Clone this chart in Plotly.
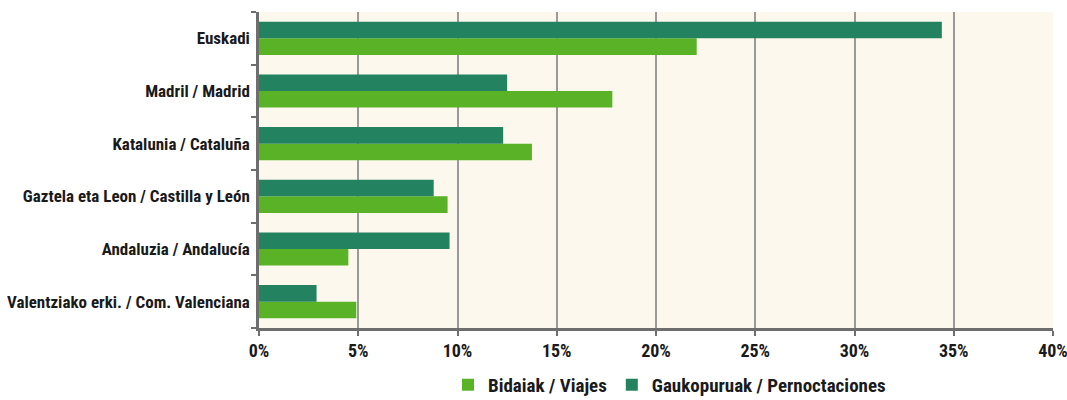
import plotly.graph_objects as go

categories = [
    "Valentziako erki. / Com. Valenciana",
    "Andaluzia / Andalucía",
    "Gaztela eta Leon / Castilla y León",
    "Katalunia / Cataluña",
    "Madril / Madrid",
    "Euskadi",
]
bidaiak = [4.9, 4.5, 9.5, 13.75, 17.8, 22.05]
gaukopuruak = [2.9, 9.6, 8.8, 12.3, 12.5, 34.4]
tick_vals = [0, 5, 10, 15, 20, 25, 30, 35, 40]
tick_text = ["0%", "5%", "10%", "15%", "20%", "25%", "30%", "35%", "40%"]

FONT = "Roboto Condensed, Arial Narrow, sans-serif"

fig = go.Figure()
fig.add_trace(go.Bar(
    y=categories, x=bidaiak, orientation="h", name="Bidaiak / Viajes",
    marker=dict(color="#5ab226", line=dict(width=0)),
))
fig.add_trace(go.Bar(
    y=categories, x=gaukopuruak, orientation="h", name="Gaukopuruak / Pernoctaciones",
    marker=dict(color="#238260", line=dict(width=0)),
))

fig.update_layout(
    width=1067, height=400,
    margin=dict(l=259, r=14, t=12, b=72, autoexpand=False),
    paper_bgcolor="white",
    plot_bgcolor="#fcf8ee",
    barmode="group",
    bargap=0.37,
    bargroupgap=0,
    font=dict(family=FONT, color="#1a1a1a", size=15),
    showlegend=True,
    legend=dict(
        orientation="h", x=0.517, xanchor="center", y=-0.18, yanchor="middle",
        font=dict(size=19, family=FONT, weight="bold"), itemsizing="constant",
        traceorder="normal", itemwidth=30,
    ),
    xaxis=dict(
        range=[0, 40], tickvals=tick_vals, ticktext=tick_text,
        showgrid=True, gridcolor="#9a9a9a", gridwidth=1.5,
        showline=True, linecolor="#6e6e6e", linewidth=2.5,
        ticks="outside", ticklen=5, tickwidth=2, tickcolor="#6e6e6e",
        tickfont=dict(size=18, family=FONT, color="#1a1a1a", weight="bold"),
        ticklabeloverflow="allow",
        zeroline=False, fixedrange=True, automargin=False,
    ),
    yaxis=dict(
        type="category", categoryorder="array", categoryarray=categories,
        showline=True, linecolor="#6e6e6e", linewidth=2.5,
        ticks="outside", tickson="boundaries", ticklen=5, tickwidth=2, tickcolor="#6e6e6e",
        tickfont=dict(size=17, family=FONT, color="#1a1a1a", weight="bold"),
        ticklabelstandoff=3,
        showgrid=False, fixedrange=True, automargin=False,
    ),
)

fig.write_html(
    "out.html",
    config={"displayModeBar": False},
    post_script="document.body.style.margin='0';document.body.style.overflow='hidden';",
)
